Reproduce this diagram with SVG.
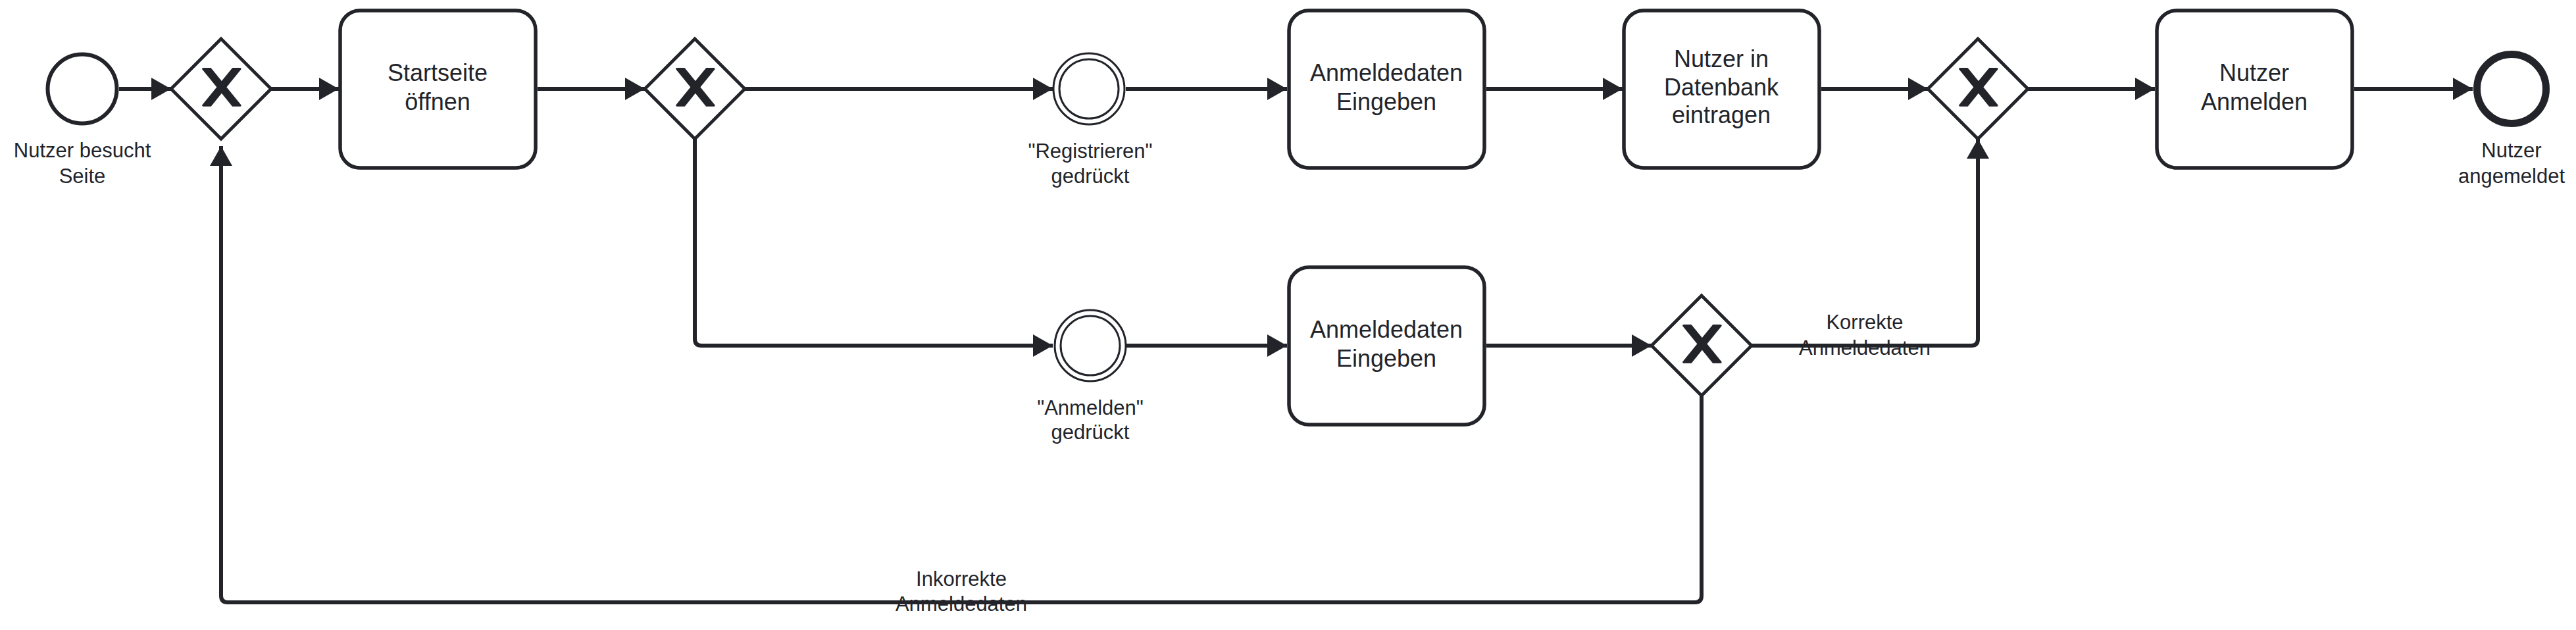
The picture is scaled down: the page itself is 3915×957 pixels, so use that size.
<svg xmlns="http://www.w3.org/2000/svg" width="3915" height="957" viewBox="0 0 3915 957">
<style>
  .task { fill: #ffffff; stroke: #22242a; stroke-width: 5.5; }
  .gw { fill: #ffffff; stroke: #22242a; stroke-width: 1.6; stroke-linejoin: miter; }
  .gwx { fill: #22242a; stroke: #22242a; stroke-width: 1; stroke-linejoin: round; }
  .flow { fill: none; stroke: #22242a; stroke-width: 6; stroke-linejoin: round; marker-end: url(#arrow); }
  .tt { font-family: "Liberation Sans", Arial, sans-serif; font-size: 36px; fill: #22242a; text-anchor: middle; }
  .lbl { font-family: "Liberation Sans", Arial, sans-serif; font-size: 31px; fill: #22242a; text-anchor: middle; }
</style>
<defs>
  <marker id="arrow" markerUnits="userSpaceOnUse" markerWidth="32" markerHeight="36" refX="30" refY="17" orient="auto">
    <path d="M0,0 L30,17 L0,34 Z" fill="#22242a"/>
  </marker>
  <g id="gateway">
    <polygon class="gw" points="25,0 50,25 25,50 0,25"/>
    <path class="gwx" d="m 16,15 7.42857142,9.14285714 -7.42857142,9.14285714 3.71428571,0 5.57142857,-6.85714286 5.57142857,6.85714286 3.71428571,0 -7.42857142,-9.14285714 7.42857142,-9.14285714 -3.71428571,0 -5.57142857,6.85714286 -5.57142857,-6.85714286 z"/>
  </g>
</defs>
<rect width="3915" height="957" fill="#ffffff"/>

<g id="connectors">
  <path class="flow" d="M181,135 L260,135"/>
  <path class="flow" d="M412,135 L515,135"/>
  <path class="flow" d="M817,135 L980,135"/>
  <path class="flow" d="M1132,135 L1600,135"/>
  <path class="flow" d="M1711,135 L1956,135"/>
  <path class="flow" d="M2259,135 L2466,135"/>
  <path class="flow" d="M2768,135 L2930,135"/>
  <path class="flow" d="M3082,135 L3275,135"/>
  <path class="flow" d="M3578,135 L3758,135"/>
  <path class="flow" d="M1056,211 L1056,515 Q1056,525 1066,525 L1600,525"/>
  <path class="flow" d="M1712,525 L1956,525"/>
  <path class="flow" d="M2259,525 L2510,525"/>
  <path class="flow" d="M2662,525 L2996,525 Q3006,525 3006,515 L3006,211"/>
  <path class="flow" d="M2586,601 L2586,905 Q2586,915 2576,915 L346,915 Q336,915 336,905 L336,222"/>
  <text class="lbl" x="2834" y="500">Korrekte</text>
  <text class="lbl" x="2834" y="539">Anmeldedaten</text>
  <text class="lbl" x="1461" y="890">Inkorrekte</text>
  <text class="lbl" x="1461" y="928">Anmeldedaten</text>
</g>

<g id="start">
  <circle cx="125" cy="135" r="52.5" fill="#ffffff" stroke="#22242a" stroke-width="6"/>
  <text class="lbl" x="125" y="239">Nutzer besucht</text>
  <text class="lbl" x="125" y="278">Seite</text>
</g>

<g id="gw1" transform="translate(260,59) scale(3.04)"><use href="#gateway"/></g>
<g id="gw2" transform="translate(980,59) scale(3.04)"><use href="#gateway"/></g>
<g id="gw3" transform="translate(2930,59) scale(3.04)"><use href="#gateway"/></g>
<g id="gw4" transform="translate(2510,449) scale(3.04)"><use href="#gateway"/></g>

<g id="task-startseite">
  <rect class="task" x="517" y="16" width="297" height="239" rx="30" ry="30"/>
  <text class="tt" x="665" y="123">Startseite</text>
  <text class="tt" x="665" y="167">öffnen</text>
</g>

<g id="event-registrieren">
  <circle cx="1655" cy="135" r="54" fill="#ffffff" stroke="#22242a" stroke-width="3"/>
  <circle cx="1655" cy="135" r="45" fill="none" stroke="#22242a" stroke-width="3"/>
  <text class="lbl" x="1657" y="240">"Registrieren"</text>
  <text class="lbl" x="1657" y="278">gedrückt</text>
</g>

<g id="task-anmeldedaten-1">
  <rect class="task" x="1959" y="16" width="297" height="239" rx="30" ry="30"/>
  <text class="tt" x="2107" y="123">Anmeldedaten</text>
  <text class="tt" x="2107" y="167">Eingeben</text>
</g>

<g id="task-datenbank">
  <rect class="task" x="2468" y="16" width="297" height="239" rx="30" ry="30"/>
  <text class="tt" x="2616" y="102">Nutzer in</text>
  <text class="tt" x="2616" y="145">Datenbank</text>
  <text class="tt" x="2616" y="187">eintragen</text>
</g>

<g id="task-anmelden">
  <rect class="task" x="3278" y="16" width="297" height="239" rx="30" ry="30"/>
  <text class="tt" x="3426" y="123">Nutzer</text>
  <text class="tt" x="3426" y="167">Anmelden</text>
</g>

<g id="end">
  <circle cx="3817" cy="135" r="52.5" fill="#ffffff" stroke="#22242a" stroke-width="11"/>
  <text class="lbl" x="3817" y="239">Nutzer</text>
  <text class="lbl" x="3817" y="278">angemeldet</text>
</g>

<g id="event-anmelden">
  <circle cx="1657" cy="525" r="54" fill="#ffffff" stroke="#22242a" stroke-width="3"/>
  <circle cx="1657" cy="525" r="45" fill="none" stroke="#22242a" stroke-width="3"/>
  <text class="lbl" x="1657" y="630">"Anmelden"</text>
  <text class="lbl" x="1657" y="667">gedrückt</text>
</g>

<g id="task-anmeldedaten-2">
  <rect class="task" x="1959" y="406" width="297" height="239" rx="30" ry="30"/>
  <text class="tt" x="2107" y="513">Anmeldedaten</text>
  <text class="tt" x="2107" y="557">Eingeben</text>
</g>
</svg>
